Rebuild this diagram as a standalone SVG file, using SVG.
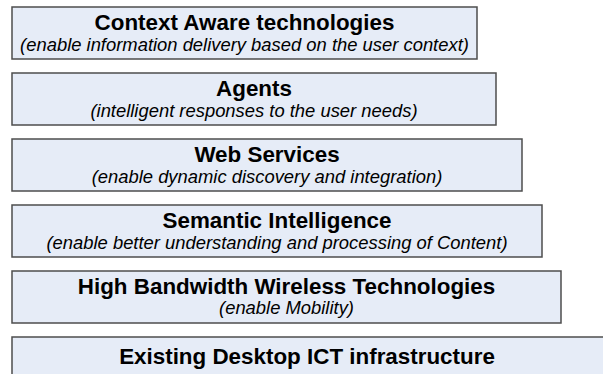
<svg xmlns="http://www.w3.org/2000/svg" width="603" height="374" viewBox="0 0 603 374">
<style>
.box{fill:#E6ECF7;stroke:#4d4d4d;stroke-width:1.5}
.t{font-family:"Liberation Sans",Arial,sans-serif;font-weight:bold;font-size:22.4px;text-anchor:middle;fill:#000}
.s{font-family:"Liberation Sans",Arial,sans-serif;font-style:italic;font-size:18.4px;text-anchor:middle;fill:#000}
</style>
<rect width="603" height="374" fill="#fff"/>
<g id="context-aware">
<rect class="box" x="12" y="7" width="465" height="52"/>
<text class="t" x="244.5" y="29.5">Context Aware technologies</text>
<text class="s" x="244.5" y="51">(enable information delivery based on the user context)</text>
</g>
<g id="agents">
<rect class="box" x="12" y="73" width="484" height="52"/>
<text class="t" x="254" y="95.5">Agents</text>
<text class="s" x="254" y="117">(intelligent responses to the user needs)</text>
</g>
<g id="web-services">
<rect class="box" x="12" y="139" width="510" height="52"/>
<text class="t" x="267" y="161.5">Web Services</text>
<text class="s" x="267" y="183">(enable dynamic discovery and integration)</text>
</g>
<g id="semantic-intelligence">
<rect class="box" x="12" y="205" width="530" height="52"/>
<text class="t" x="277" y="227.5">Semantic Intelligence</text>
<text class="s" x="277" y="249">(enable better understanding and processing of Content)</text>
</g>
<g id="wireless">
<rect class="box" x="12" y="271" width="549" height="52"/>
<text class="t" x="286.5" y="293.5">High Bandwidth Wireless Technologies</text>
<text class="s" x="286.5" y="314">(enable Mobility)</text>
</g>
<g id="desktop-ict">
<rect class="box" x="12" y="337" width="596" height="52"/>
<text class="t" x="307" y="363.5">Existing Desktop ICT infrastructure</text>
</g>
<g id="connectors"></g>
</svg>
